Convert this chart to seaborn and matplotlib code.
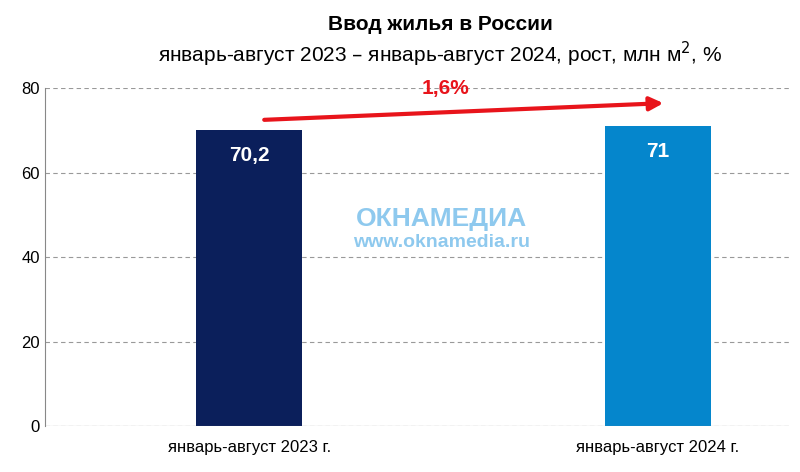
import matplotlib
matplotlib.use("Agg")
import matplotlib.pyplot as plt
import seaborn as sns
import pandas as pd

categories = ["январь-август 2023 г.", "январь-август 2024 г."]
values = [70.2, 71]
value_labels = ["70,2", "71"]
growth_label = "1,6%"
colors = ["#0B1F5B", "#0586CC"]

plt.rcParams["font.family"] = "Liberation Sans"
df = pd.DataFrame({"cat": categories, "val": values})

fig = plt.figure(figsize=(8, 4.72), dpi=100)
ax = fig.add_axes([0.056, 0.097, 0.93, 0.716])
sns.barplot(data=df, x="cat", y="val", hue="cat", palette=colors, width=0.26, ax=ax, legend=False, saturation=1)
ax.set_xlim(-0.5, 1.32)
ax.set_ylim(0, 80)
ax.set_yticks([0, 20, 40, 60, 80])
ax.yaxis.grid(True, linestyle=(0, (4, 3)), color="#999999", linewidth=0.8)
ax.set_axisbelow(True)
for s in ["top", "right", "bottom"]:
    ax.spines[s].set_visible(False)
ax.spines["left"].set_color("#888888")
ax.set_xlabel(""); ax.set_ylabel("")
ax.tick_params(axis="both", labelsize=12, length=0, colors="black")
ax.tick_params(axis="x", pad=10)
ax.axhline(0, color="#888888", linewidth=0.8)
for i, (v, l) in enumerate(zip(values, value_labels)):
    ax.text(i, v - 6, l, ha="center", va="center", color="white", fontsize=15, fontweight="bold")
ax.annotate("", xy=(1.02, 76.5), xytext=(0.03, 72.5),
            arrowprops=dict(arrowstyle="-|>", color="#E8141B", lw=3, mutation_scale=20))
ax.text(0.48, 77.8, growth_label, ha="center", va="bottom", color="#E8141B", fontsize=15, fontweight="bold")
ax.text(0.47, 49, "ОКНАМЕДИА", ha="center", va="center", color="#8EC9EE", fontsize=19, fontweight="bold")
ax.text(0.47, 43.5, "www.oknamedia.ru", ha="center", va="center", color="#8EC9EE", fontsize=14, fontweight="bold")

fig.text(0.55, 0.948, "Ввод жилья в России", ha="center", va="center", fontsize=15, fontweight="bold")
fig.text(0.55, 0.885, "январь-август 2023 – январь-август 2024, рост, млн м$^2$, %", ha="center", va="center", fontsize=15)
fig.savefig("out.png", dpi=100)
